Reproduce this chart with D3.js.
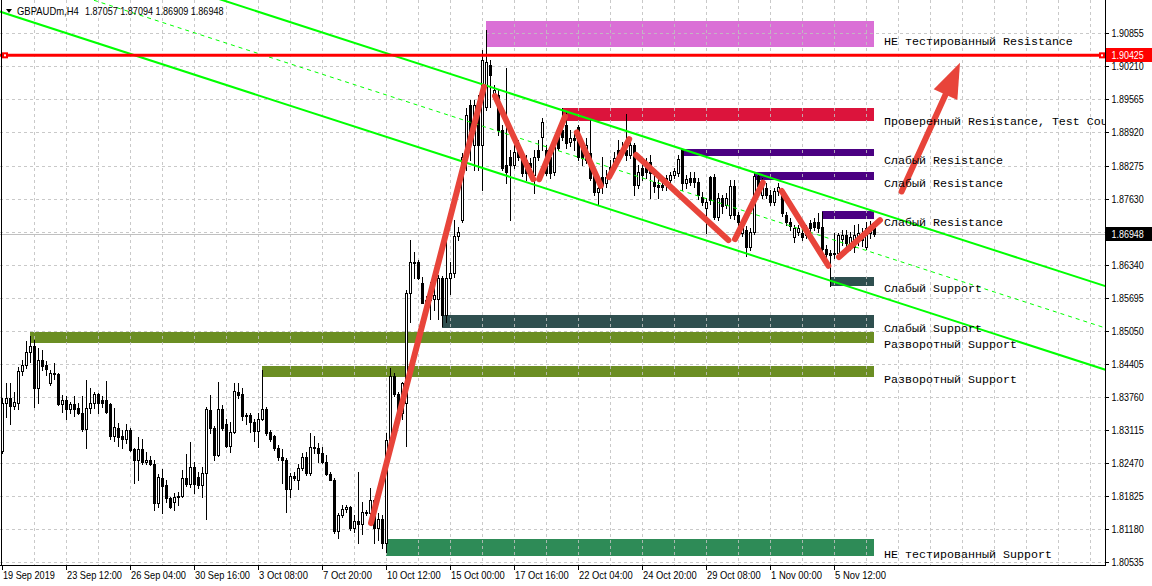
<!DOCTYPE html>
<html><head><meta charset="utf-8">
<script src="https://cdn.jsdelivr.net/npm/d3@7"></script>
<style>html,body{margin:0;padding:0;background:#fff;} svg{display:block;}</style>
</head><body><svg id="c" width="1152" height="586"></svg>
<script>
// ---------------- DATA ----------------
const symbolName = "GBPAUDm,H4";
const lastOHLC = [1.87057, 1.87094, 1.86909, 1.86948];
const bidPrice = 1.86948;
const redLevel = 1.90425;

const opens = [1.8271,1.8364,1.8374,1.8359,1.8365,1.8427,1.8438,1.8464,1.8475,1.8394,
1.8448,1.8438,1.8404,1.8423,1.8420,1.8362,1.8370,1.8352,1.8362,1.8354,
1.8344,1.8313,1.8355,1.8365,1.8382,1.8370,1.8370,1.8362,1.8299,1.8315,
1.8299,1.8295,1.8311,1.8274,1.8254,1.8274,1.8249,1.8254,1.8245,1.8170,
1.8218,1.8204,1.8178,1.8172,1.8180,1.8183,1.8218,1.8206,1.8239,1.8220,
1.8205,1.8227,1.8351,1.8315,1.8263,1.8352,1.8323,1.8281,1.8307,1.8386,
1.8382,1.8341,1.8341,1.8328,1.8310,1.8334,1.8352,1.8308,1.8299,1.8276,
1.8258,1.8253,1.8196,1.8222,1.8214,1.8237,1.8258,1.8227,1.8279,1.8277,
1.8266,1.8250,1.8225,1.8215,1.8115,1.8146,1.8157,1.8161,1.8121,1.8134,
1.8128,1.8151,1.8149,1.8175,1.8120,1.8138,1.8092,1.8293,1.8416,1.8382,
1.8345,1.8364,1.8579,1.8638,1.8640,1.8599,1.8560,1.8571,1.8567,1.8567,
1.8609,1.8536,1.8609,1.8618,1.8690,1.8721,1.8845,1.8946,1.8868,1.8946,
1.8868,1.8942,1.9024,1.8967,1.8965,1.8897,1.8829,1.8845,1.8829,1.8862,
1.8848,1.8838,1.8832,1.8809,1.8858,1.8883,1.8858,1.8844,1.8815,1.8883,
1.8897,1.8907,1.8874,1.8881,1.8903,1.8862,1.8838,1.8852,1.8813,1.8776,
1.8805,1.8793,1.8825,1.8825,1.8858,1.8854,1.8858,1.8848,1.8868,1.8790,
1.8823,1.8829,1.8835,1.8796,1.8790,1.8790,1.8790,1.8799,1.8809,1.8813,
1.8859,1.8793,1.8803,1.8803,1.8796,1.8767,1.8744,1.8805,1.8805,1.8728,
1.8764,1.8751,1.8731,1.8788,1.8731,1.8695,1.8702,1.8669,1.8698,1.8807,
1.8770,1.8784,1.8770,1.8757,1.8777,1.8777,1.8731,1.8718,1.8689,1.8698,
1.8695,1.8692,1.8715,1.8718,1.8718,1.8707,1.8664,1.8657,1.8655,1.8656,
1.8684,1.8692,1.8676,1.8669,1.8682,1.8695,1.8669,1.8695,1.87057];

const highs = [1.8374,1.8403,1.8403,1.8386,1.8435,1.8448,1.8486,1.8495,1.8487,1.8471,
1.8468,1.8446,1.8429,1.8442,1.8422,1.8380,1.8377,1.8367,1.8378,1.8364,
1.8377,1.8410,1.8393,1.8386,1.8384,1.8377,1.8407,1.8364,1.8354,1.8325,
1.8311,1.8323,1.8315,1.8276,1.8297,1.8295,1.8269,1.8260,1.8253,1.8226,
1.8235,1.8214,1.8181,1.8189,1.8191,1.8233,1.8264,1.8289,1.8250,1.8230,
1.8240,1.8356,1.8380,1.8319,1.8406,1.8360,1.8334,1.8328,1.8403,1.8404,
1.8393,1.8344,1.8345,1.8334,1.8344,1.8429,1.8356,1.8311,1.8302,1.8282,
1.8274,1.8256,1.8227,1.8230,1.8245,1.8266,1.8269,1.8305,1.8299,1.8287,
1.8279,1.8263,1.8230,1.8217,1.8149,1.8165,1.8165,1.8163,1.8146,1.8229,
1.8172,1.8156,1.8198,1.8176,1.8149,1.8146,1.8305,1.8432,1.8422,1.8386,
1.8405,1.8585,1.8682,1.8658,1.8643,1.8611,1.8573,1.8601,1.8598,1.8614,
1.8612,1.8715,1.8640,1.8721,1.8708,1.8852,1.8940,1.8955,1.8955,1.8965,
1.9053,1.9092,1.9034,1.8985,1.8975,1.8907,1.9018,1.8858,1.8868,1.8877,
1.8858,1.8848,1.8842,1.8858,1.8877,1.8920,1.8868,1.8858,1.8872,1.8897,
1.8940,1.8932,1.8897,1.8893,1.8907,1.8868,1.8881,1.8916,1.8819,1.8799,
1.8844,1.8819,1.8838,1.8854,1.8877,1.8873,1.8928,1.8877,1.8872,1.8829,
1.8838,1.8842,1.8848,1.8809,1.8806,1.8799,1.8809,1.8815,1.8823,1.8848,
1.8860,1.8809,1.8815,1.8815,1.8803,1.8776,1.8764,1.8807,1.8811,1.8774,
1.8770,1.8774,1.8799,1.8799,1.8737,1.8712,1.8710,1.8706,1.8815,1.8811,
1.8803,1.8794,1.8780,1.8784,1.8794,1.8784,1.8737,1.8725,1.8712,1.8712,
1.8706,1.8712,1.8721,1.8725,1.8734,1.8737,1.8673,1.8663,1.8695,1.8696,
1.8702,1.8702,1.8698,1.8712,1.8713,1.8706,1.8717,1.8719,1.87094];

const lows = [1.8267,1.8337,1.8323,1.8353,1.8353,1.8419,1.8433,1.8445,1.8357,1.8364,
1.8429,1.8419,1.8399,1.8412,1.8360,1.8347,1.8334,1.8345,1.8338,1.8343,
1.8310,1.8276,1.8345,1.8354,1.8345,1.8356,1.8345,1.8295,1.8291,1.8280,
1.8276,1.8286,1.8271,1.8208,1.8215,1.8245,1.8245,1.8243,1.8156,1.8162,
1.8150,1.8172,1.8159,1.8156,1.8165,1.8181,1.8202,1.8201,1.8188,1.8198,
1.8180,1.8138,1.8305,1.8254,1.8260,1.8311,1.8279,1.8269,1.8305,1.8375,
1.8331,1.8323,1.8308,1.8291,1.8279,1.8331,1.8302,1.8291,1.8273,1.8254,
1.8208,1.8152,1.8181,1.8214,1.8196,1.8233,1.8224,1.8224,1.8266,1.8250,
1.8247,1.8224,1.8214,1.8110,1.8100,1.8142,1.8152,1.8116,1.8113,1.8092,
1.8109,1.8146,1.8133,1.8091,1.8097,1.8081,1.8074,1.8287,1.8377,1.8344,
1.8334,1.8280,1.8523,1.8608,1.8606,1.8559,1.8539,1.8529,1.8546,1.8529,
1.8515,1.8523,1.8577,1.8611,1.8682,1.8717,1.8819,1.8838,1.8819,1.8819,
1.8780,1.8936,1.8942,1.8955,1.8887,1.8819,1.8793,1.8721,1.8823,1.8838,
1.8807,1.8799,1.8809,1.8774,1.8838,1.8858,1.8809,1.8803,1.8809,1.8858,
1.8877,1.8862,1.8866,1.8858,1.8838,1.8829,1.8833,1.8799,1.8770,1.8751,
1.8774,1.8786,1.8803,1.8819,1.8838,1.8846,1.8838,1.8842,1.8770,1.8784,
1.8799,1.8803,1.8764,1.8776,1.8764,1.8780,1.8780,1.8793,1.8803,1.8807,
1.8780,1.8784,1.8790,1.8786,1.8762,1.8751,1.8696,1.8752,1.8723,1.8721,
1.8735,1.8745,1.8725,1.8723,1.8712,1.8690,1.8651,1.8663,1.8694,1.8780,
1.8764,1.8764,1.8751,1.8751,1.8770,1.8729,1.8712,1.8702,1.8678,1.8692,
1.8682,1.8686,1.8698,1.8702,1.8698,1.8659,1.8650,1.8593,1.8647,1.8651,
1.8673,1.8667,1.8663,1.8659,1.8673,1.8671,1.8665,1.8686,1.86909];

const closes = [1.8365,1.8374,1.8359,1.8366,1.8427,1.8438,1.8464,1.8475,1.8394,1.8448,
1.8437,1.8430,1.8423,1.8420,1.8362,1.8370,1.8352,1.8362,1.8352,1.8344,
1.8313,1.8355,1.8365,1.8382,1.8365,1.8365,1.8347,1.8299,1.8317,1.8297,
1.8295,1.8311,1.8273,1.8254,1.8274,1.8249,1.8254,1.8245,1.8170,1.8220,
1.8203,1.8178,1.8162,1.8181,1.8183,1.8218,1.8206,1.8239,1.8206,1.8205,
1.8227,1.8352,1.8315,1.8263,1.8352,1.8315,1.8281,1.8307,1.8388,1.8380,
1.8338,1.8338,1.8328,1.8310,1.8334,1.8352,1.8306,1.8295,1.8276,1.8258,
1.8253,1.8196,1.8222,1.8217,1.8237,1.8258,1.8227,1.8279,1.8276,1.8266,
1.8250,1.8225,1.8215,1.8115,1.8146,1.8157,1.8161,1.8121,1.8134,1.8128,
1.8151,1.8149,1.8175,1.8120,1.8138,1.8092,1.8293,1.8416,1.8382,1.8345,
1.8404,1.8579,1.8640,1.8640,1.8609,1.8560,1.8565,1.8565,1.8575,1.8609,
1.8536,1.8609,1.8618,1.8690,1.8698,1.8845,1.8926,1.8894,1.8946,1.8868,
1.9033,1.9030,1.9004,1.8974,1.8897,1.8823,1.8815,1.8829,1.8854,1.8844,
1.8813,1.8813,1.8825,1.8844,1.8844,1.8913,1.8813,1.8813,1.8864,1.8862,
1.8883,1.8872,1.8881,1.8877,1.8844,1.8842,1.8868,1.8803,1.8776,1.8784,
1.8790,1.8805,1.8813,1.8842,1.8844,1.8862,1.8848,1.8868,1.8790,1.8815,
1.8809,1.8815,1.8812,1.8788,1.8786,1.8786,1.8803,1.8809,1.8816,1.8840,
1.8793,1.8801,1.8796,1.8796,1.8770,1.8757,1.8757,1.8760,1.8728,1.8764,
1.8749,1.8764,1.8788,1.8731,1.8718,1.8705,1.8669,1.8698,1.8807,1.8788,
1.8799,1.8770,1.8757,1.8777,1.8786,1.8734,1.8718,1.8710,1.8706,1.8705,
1.8689,1.8705,1.8705,1.8708,1.8705,1.8664,1.8655,1.8653,1.8657,1.8692,
1.8692,1.8676,1.8689,1.8692,1.8695,1.8682,1.8705,1.8708,1.86948];

const priceTicks = [1.80535,1.81180,1.81825,1.82470,1.83115,1.83760,1.84405,1.85050,1.85695,
  1.86340,1.86948,1.87630,1.88275,1.88920,1.89565,1.90210,1.90855];
const gridPrices = [1.80535,1.81180,1.81825,1.82470,1.83115,1.83760,1.84405,1.85050,1.85695,
  1.86340,1.86985,1.87630,1.88275,1.88920,1.89565,1.90210,1.90855];
const timeLabels = ["19 Sep 2019","23 Sep 12:00","26 Sep 04:00","30 Sep 16:00","3 Oct 08:00",
  "7 Oct 20:00","10 Oct 12:00","15 Oct 00:00","17 Oct 16:00","22 Oct 04:00","24 Oct 20:00",
  "29 Oct 08:00","1 Nov 00:00","5 Nov 12:00"];
const timeLabelBars = [0,16,32,48,64,80,96,112,128,144,160,176,192,208];

// supply / demand zones
const zoneNames  = ["НЕ тестированный Resistance","Проверенный Resistance, Test Count=2",
  "Слабый Resistance","Слабый Resistance","Слабый Resistance","Слабый Support","Слабый Support",
  "Разворотный Support","Разворотный Support","НЕ тестированный Support"];
const zoneTop    = [1.91095,1.89392,1.88592,1.88149,1.87388,1.86101,1.85359,1.85027,1.84364,1.80989];
const zoneBottom = [1.90594,1.89150,1.88461,1.87993,1.87232,1.85925,1.85111,1.84819,1.84155,1.80663];
const zoneStart  = [121,140,170,188,205,207,110,7,65,96];
const zoneLabelLevel = [1.90685,1.89130,1.88369,1.87921,1.87160,1.85860,1.85086,1.84780,1.84091,1.80677];
const zoneColors = ["#DA70D6","#DC143C","#4B0082","#4B0082","#4B0082","#2F4F4F","#2F4F4F",
  "#6B8E23","#6B8E23","#2E8B57"];

// regression channel (bar index, price)
const channelUpper = [[0,1.92896],[218,1.87384]];
const channelMid   = [[0,1.92081],[218,1.86569]];
const channelLower = [[0,1.91265],[218,1.85753]];

// hand-drawn zigzag segments [[bar,price],[bar,price]]
const zigzag = [
  [[92.25,1.8130],[120.5,1.8981]],
  [[123.25,1.8963],[132.8,1.8801]],
  [[134.3,1.8801],[140.75,1.8923]],
  [[143.7,1.8892],[149.7,1.8788]],
  [[151.75,1.8805],[156.8,1.8879]],
  [[158.5,1.8848],[181.6,1.8682]],
  [[183.25,1.8684],[190.2,1.8794]],
  [[194.9,1.8778],[206.6,1.8632]],
  [[209.25,1.8649],[219.5,1.8721]]
];
const forecastArrow = [[224.9,1.8777],[239.5,1.9028]];

// ---------------- LAYOUT ----------------
const W = 1152, H = 586, plotR = 1105, plotB = 565;
const x = d3.scaleLinear().domain([0, 16]).range([2, 66]);
const y = d3.scaleLinear().domain([1.80535, 1.90855]).range([562.3, 33.3]);
const px = i => Math.round(x(i));
const py = p => Math.round(y(p));

const svg = d3.select("#c");
svg.append("rect").attr("width", W).attr("height", H).attr("fill", "#fff");
svg.append("defs").append("clipPath").attr("id", "plotclip")
  .append("rect").attr("x", 0).attr("y", 0).attr("width", plotR).attr("height", plotB);
const plot = svg.append("g").attr("clip-path", "url(#plotclip)");

// zones
const zi = d3.range(zoneNames.length);
const lastBar = opens.length - 1;
plot.append("g").attr("shape-rendering", "crispEdges").selectAll("rect").data(zi).join("rect")
  .attr("x", i => px(zoneStart[i]))
  .attr("width", i => px(lastBar) - px(zoneStart[i]))
  .attr("y", i => py(zoneTop[i]))
  .attr("height", i => py(zoneBottom[i]) - py(zoneTop[i]))
  .attr("fill", i => zoneColors[i]);

// grid
const grid = plot.append("g").attr("shape-rendering", "crispEdges")
  .attr("stroke", "#c0c0c0").attr("stroke-dasharray", "3,3").attr("opacity", 0.85);
grid.selectAll("line.h").data(gridPrices).join("line").attr("class", "h")
  .attr("x1", 0).attr("x2", plotR).attr("y1", p => py(p) + 0.5).attr("y2", p => py(p) + 0.5);
const vBars = d3.range(8, 280, 8).filter(b => x(b) < plotR);
grid.selectAll("line.v").data(vBars).join("line").attr("class", "v")
  .attr("x1", b => px(b) + 0.5).attr("x2", b => px(b) + 0.5).attr("y1", 0).attr("y2", plotB);

// bid line
plot.append("line").attr("shape-rendering", "crispEdges")
  .attr("x1", 0).attr("x2", plotR).attr("y1", py(bidPrice) + 0.5).attr("y2", py(bidPrice) + 0.5)
  .attr("stroke", "#c0c0c0");

// candles
const bars = d3.range(opens.length);
const cg = plot.append("g").attr("shape-rendering", "crispEdges");
cg.selectAll("line").data(bars).join("line")
  .attr("x1", i => px(i) + 0.5).attr("x2", i => px(i) + 0.5)
  .attr("y1", i => py(highs[i])).attr("y2", i => py(lows[i]) + 1)
  .attr("stroke", "#000");
cg.selectAll("rect").data(bars).join("rect")
  .attr("x", i => px(i) - 0.5).attr("width", 2)
  .attr("y", i => py(Math.max(opens[i], closes[i])) + 0.5)
  .attr("height", i => Math.max(0, py(Math.min(opens[i], closes[i])) - py(Math.max(opens[i], closes[i]))))
  .attr("fill", i => closes[i] >= opens[i] ? "#fff" : "#000")
  .attr("stroke", "#000");

// channel
const chanLine = (seg, xa, xb) => {
  const [[i0, p0], [i1, p1]] = seg;
  const f = i => p0 + (p1 - p0) * (i - i0) / (i1 - i0);
  return [[x(xa), y(f(xa))], [x(xb), y(f(xb))]];
};
const ia = x.invert(-5), ib = x.invert(plotR + 5);
[[channelUpper, 2, null], [channelLower, 2, null], [channelMid, 1, "4,4"]].forEach(([seg, w, dash]) => {
  plot.append("path").attr("d", d3.line()(chanLine(seg, ia, ib)))
    .attr("stroke", "#00ff00").attr("stroke-width", w).attr("fill", "none")
    .attr("stroke-dasharray", dash);
});

// zigzag
const redC = "#e8443a";
plot.append("g").selectAll("path").data(zigzag).join("path")
  .attr("d", s => d3.line()(s.map(([b, p]) => [x(b), y(p)])))
  .attr("stroke", redC).attr("stroke-width", 6).attr("stroke-linecap", "round").attr("fill", "none");

// forecast arrow
{
  const [a, b] = forecastArrow.map(([bb, p]) => [x(bb), y(p)]);
  const dx = b[0] - a[0], dy = b[1] - a[1], L = Math.hypot(dx, dy);
  const ux = dx / L, uy = dy / L, head = 35, hw = 13;
  const base = [b[0] - ux * head, b[1] - uy * head];
  plot.append("path").attr("d", d3.line()([a, [base[0] + ux * 4, base[1] + uy * 4]]))
    .attr("stroke", redC).attr("stroke-width", 6).attr("stroke-linecap", "round").attr("fill", "none");
  plot.append("path").attr("d", d3.line()([b, [base[0] - uy * hw, base[1] + ux * hw], [base[0] + uy * hw, base[1] - ux * hw]]) + "Z")
    .attr("fill", redC);
}

// red horizontal level
const ry = y(redLevel);
plot.append("line").attr("x1", 0).attr("x2", plotR).attr("y1", ry).attr("y2", ry)
  .attr("stroke", "#ff0000").attr("stroke-width", 3);
[2, plotR - 6].forEach(sx => {
  plot.append("rect").attr("x", sx).attr("y", ry - 3).attr("width", 6).attr("height", 6).attr("fill", "#ff0000");
  plot.append("rect").attr("x", sx + 2).attr("y", ry - 1).attr("width", 2).attr("height", 2).attr("fill", "#fff");
});

// zone labels
plot.append("g").selectAll("text").data(zi).join("text")
  .attr("x", 884).attr("y", i => y(zoneLabelLevel[i]))
  .attr("dominant-baseline", "central")
  .attr("font-family", "'Liberation Mono', 'Courier New', monospace").attr("font-size", "11.67px")
  .attr("fill", "#000").text(i => zoneNames[i]);

// frame
const frame = svg.append("g").attr("shape-rendering", "crispEdges").attr("stroke", "#000");
frame.append("line").attr("x1", 1.5).attr("x2", 1.5).attr("y1", 0).attr("y2", plotB + 1);
frame.append("line").attr("x1", 0).attr("x2", plotR + 1).attr("y1", plotB + 0.5).attr("y2", plotB + 0.5);
frame.append("line").attr("x1", plotR + 0.5).attr("x2", plotR + 0.5).attr("y1", 0).attr("y2", plotB + 1);

// Tahoma-like UI text: fix advance widths with an approximate Tahoma 8pt width table
const axisFont = "'Liberation Sans', Arial, sans-serif";
const uiSize = "10.5px";
const tw = {" ":3.1, ".":2.9, ":":3.2, ",":2.7, S:5.8, e:5.2, p:5.2, O:7.0, c:4.6, t:3.4,
  N:6.8, o:5.3, v:5.0, G:7.0, B:6.2, P:5.8, A:6.2, U:6.6, D:7.0, m:8.6, H:6.8};
const tahomaWidth = s => [...s].reduce((a, ch) => a + (/[0-9]/.test(ch) ? 4.9 : (tw[ch] || 5)), 0);
function fitText(sel) {
  sel.attr("textLength", function () { return tahomaWidth(this.textContent).toFixed(1); })
     .attr("lengthAdjust", "spacingAndGlyphs");
}

// price axis
const pa = svg.append("g");
pa.selectAll("line").data(priceTicks).join("line").attr("shape-rendering", "crispEdges")
  .attr("x1", plotR).attr("x2", plotR + 4).attr("y1", p => py(p) + 0.5).attr("y2", p => py(p) + 0.5)
  .attr("stroke", "#000");
const ptxt = pa.selectAll("text.t").data(priceTicks.filter(p => p !== bidPrice)).join("text")
  .attr("class", "t")
  .attr("x", 1111.5).attr("y", p => y(p) + 4)
  .attr("font-family", axisFont).attr("font-size", uiSize).attr("fill", "#000")
  .text(p => p.toFixed(5));
fitText(ptxt);
[[redLevel, "#ff0000"], [bidPrice, "#000"]].forEach(([p, col]) => {
  pa.append("rect").attr("x", 1106).attr("y", py(p) - 7).attr("width", 46).attr("height", 14).attr("fill", col);
  const t = pa.append("text").attr("x", 1111.5).attr("y", y(p) + 4)
    .attr("font-family", axisFont).attr("font-size", uiSize).attr("fill", "#fff").text(p.toFixed(5));
  fitText(t);
});

// time axis
const ta = svg.append("g");
ta.selectAll("line").data(timeLabelBars).join("line").attr("shape-rendering", "crispEdges")
  .attr("x1", b => px(b) + 0.5).attr("x2", b => px(b) + 0.5).attr("y1", plotB).attr("y2", plotB + 5)
  .attr("stroke", "#000");
const ttxt = ta.selectAll("text").data(timeLabelBars).join("text")
  .attr("x", b => px(b) + 1).attr("y", 579)
  .attr("font-family", axisFont).attr("font-size", uiSize).attr("fill", "#000")
  .text((b, k) => timeLabels[k]);
fitText(ttxt);

// header
svg.append("path").attr("d", "M6,9L12,9L9,13Z").attr("fill", "#000");
const hdr1 = svg.append("text").attr("x", 17).attr("y", 14.5)
  .attr("font-family", axisFont).attr("font-size", uiSize).attr("fill", "#000").text(symbolName);
fitText(hdr1);
const hdr2 = svg.append("text").attr("x", 17 + tahomaWidth(symbolName + "  ")).attr("y", 14.5)
  .attr("font-family", axisFont).attr("font-size", uiSize).attr("fill", "#000")
  .text(lastOHLC.map(v => v.toFixed(5)).join(" "));
fitText(hdr2);
</script></body></html>
